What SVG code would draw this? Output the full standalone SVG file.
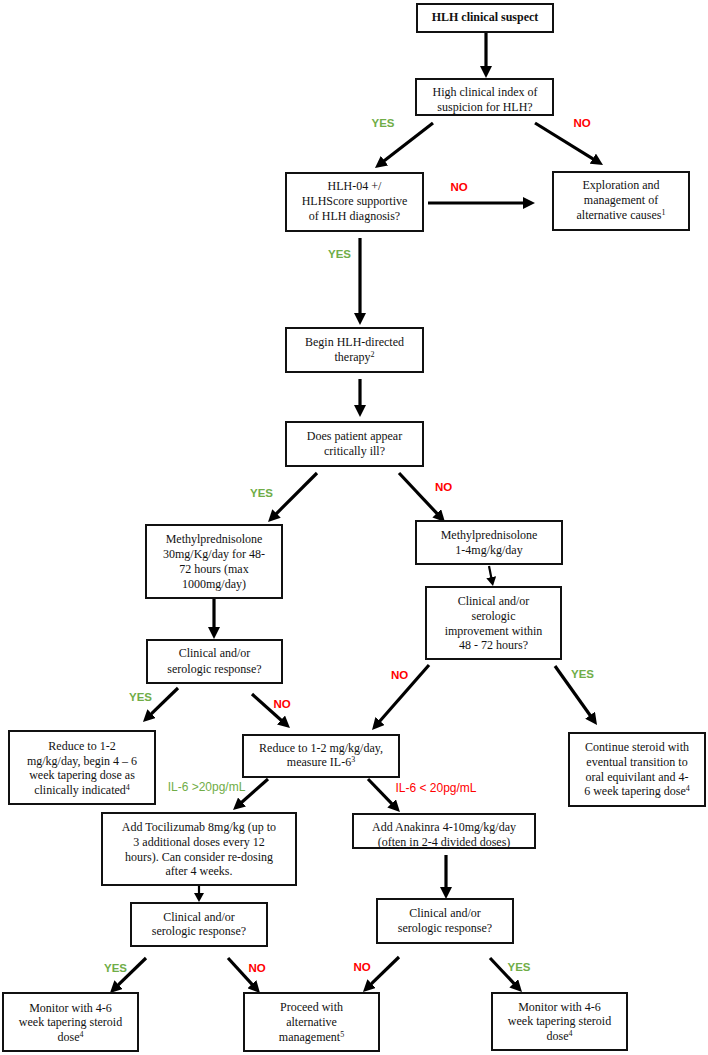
<svg xmlns="http://www.w3.org/2000/svg" width="708" height="1055" viewBox="0 0 708 1055">
<style>
.box{fill:#fff;stroke:#111;stroke-width:2}
.t{font-family:"Liberation Serif","Times New Roman",serif;font-size:12px;text-anchor:middle;fill:#111}
.b{font-weight:bold}
.c{stroke:#000;stroke-width:3.2;fill:none}
.cs{stroke:#000;stroke-width:2.2;fill:none}
.yes{font-family:"Liberation Sans",Arial,sans-serif;font-weight:bold;font-size:11.5px;fill:#70AD47;text-anchor:middle}
.no{font-family:"Liberation Sans",Arial,sans-serif;font-weight:bold;font-size:11.5px;fill:#FF0000;text-anchor:middle}
.ilg{font-family:"Liberation Sans",Arial,sans-serif;font-size:12px;fill:#70AD47;text-anchor:middle}
.ilr{font-family:"Liberation Sans",Arial,sans-serif;font-size:12px;fill:#FF0000;text-anchor:middle}
.sup{font-size:8px}
</style>
<defs>
<marker id="ah" markerUnits="userSpaceOnUse" markerWidth="12" markerHeight="12" refX="4" refY="6" orient="auto">
<path d="M0,0 L12,6 L0,12 Z" fill="#000"/>
</marker>
<marker id="ahs" markerUnits="userSpaceOnUse" markerWidth="9" markerHeight="10" refX="3" refY="5" orient="auto">
<path d="M0,0 L9,5 L0,10 Z" fill="#000"/>
</marker>
</defs>
<rect width="708" height="1055" fill="#fff"/>

<g id="connectors">
<line class="c" x1="486" y1="32" x2="486" y2="70" marker-end="url(#ah)"/>
<line class="c" x1="433" y1="123" x2="381.3" y2="163.1" marker-end="url(#ah)"/>
<line class="c" x1="535" y1="123" x2="596.2" y2="160.8" marker-end="url(#ah)"/>
<line class="c" x1="428" y1="203" x2="527" y2="203" marker-end="url(#ah)"/>
<line class="c" x1="360" y1="238" x2="360" y2="317" marker-end="url(#ah)"/>
<line class="c" x1="360" y1="379" x2="360" y2="409" marker-end="url(#ah)"/>
<line class="c" x1="317" y1="473" x2="273.7" y2="516.3" marker-end="url(#ah)"/>
<line class="c" x1="399" y1="473" x2="439.5" y2="516.2" marker-end="url(#ah)"/>
<line class="c" x1="214" y1="598" x2="214" y2="631" marker-end="url(#ah)"/>
<line class="cs" x1="489" y1="566" x2="491.8" y2="580.1" marker-end="url(#ahs)"/>
<line class="c" x1="178" y1="688" x2="148.7" y2="716.4" marker-end="url(#ah)"/>
<line class="c" x1="252" y1="694" x2="284" y2="722.7" marker-end="url(#ah)"/>
<line class="c" x1="429" y1="665" x2="377.3" y2="724" marker-end="url(#ah)"/>
<line class="c" x1="555" y1="666" x2="592.4" y2="718.5" marker-end="url(#ah)"/>
<line class="c" x1="268" y1="779" x2="239" y2="804.7" marker-end="url(#ah)"/>
<line class="c" x1="368" y1="779" x2="394.4" y2="806.3" marker-end="url(#ah)"/>
<line class="cs" x1="199" y1="885" x2="199" y2="896" marker-end="url(#ahs)"/>
<line class="c" x1="146" y1="958" x2="115.7" y2="987.4" marker-end="url(#ah)"/>
<line class="c" x1="228" y1="958" x2="254.6" y2="987.1" marker-end="url(#ah)"/>
<line class="c" x1="446" y1="855" x2="446" y2="891" marker-end="url(#ah)"/>
<line class="c" x1="399" y1="957" x2="368.7" y2="986.4" marker-end="url(#ah)"/>
<line class="c" x1="490" y1="958" x2="516.5" y2="986.2" marker-end="url(#ah)"/>

<text class="yes" x="383" y="127">YES</text>
<text class="no" x="582" y="127">NO</text>
<text class="no" x="459" y="191">NO</text>
<text class="yes" x="339.5" y="258">YES</text>
<text class="yes" x="261.5" y="497">YES</text>
<text class="no" x="443.5" y="491">NO</text>
<text class="yes" x="140.5" y="701">YES</text>
<text class="no" x="282" y="708">NO</text>
<text class="no" x="399.5" y="679">NO</text>
<text class="yes" x="582.5" y="678">YES</text>
<text class="ilg" x="206.5" y="791">IL-6 &gt;20pg/mL</text>
<text class="ilr" x="436" y="792">IL-6 &lt; 20pg/mL</text>
<text class="yes" x="115.5" y="972">YES</text>
<text class="no" x="257" y="972">NO</text>
<text class="no" x="362" y="971">NO</text>
<text class="yes" x="519" y="971">YES</text>
</g>

<g id="n-suspect">
<rect class="box" x="417" y="4" width="136" height="28"/>
<text class="t b" x="485" y="21">HLH clinical suspect</text>
</g>

<g id="n-index">
<rect class="box" x="416" y="79" width="137" height="36"/>
<text class="t" x="485" y="96">High clinical index of</text>
<text class="t" x="485" y="111">suspicion for HLH?</text>
</g>

<g id="n-hlh04">
<rect class="box" x="286" y="173" width="137" height="58"/>
<text class="t" x="354.5" y="190">HLH-04  +/</text>
<text class="t" x="354.5" y="205">HLHScore supportive</text>
<text class="t" x="354.5" y="220">of HLH diagnosis?</text>
</g>

<g id="n-explore">
<rect class="box" x="553" y="172" width="136" height="58"/>
<text class="t" x="621" y="189">Exploration and</text>
<text class="t" x="621" y="204">management of</text>
<text class="t" x="621" y="219">alternative causes<tspan class="sup" dy="-4">1</tspan></text>
</g>

<g id="n-begin">
<rect class="box" x="286" y="328" width="137" height="44"/>
<text class="t" x="354.5" y="346">Begin HLH-directed</text>
<text class="t" x="354.5" y="361">therapy<tspan class="sup" dy="-4">2</tspan></text>
</g>

<g id="n-critical">
<rect class="box" x="286" y="422" width="137" height="44"/>
<text class="t" x="354.5" y="440">Does patient appear</text>
<text class="t" x="354.5" y="455">critically ill?</text>
</g>

<g id="n-mp-high">
<rect class="box" x="146" y="525" width="136" height="73"/>
<text class="t" x="214" y="543">Methylprednisolone</text>
<text class="t" x="214" y="558">30mg/Kg/day for 48-</text>
<text class="t" x="214" y="573">72 hours (max</text>
<text class="t" x="214" y="588">1000mg/day)</text>
</g>

<g id="n-mp-low">
<rect class="box" x="416" y="521" width="146" height="43"/>
<text class="t" x="489" y="539">Methylprednisolone</text>
<text class="t" x="489" y="554">1-4mg/kg/day</text>
</g>

<g id="n-improve">
<rect class="box" x="426" y="587" width="135" height="72"/>
<text class="t" x="493.5" y="605">Clinical and/or</text>
<text class="t" x="493.5" y="620">serologic</text>
<text class="t" x="493.5" y="635">improvement within</text>
<text class="t" x="493.5" y="649">48 - 72 hours?</text>
</g>

<g id="n-response1">
<rect class="box" x="147" y="640" width="135" height="43"/>
<text class="t" x="214.5" y="657">Clinical and/or</text>
<text class="t" x="214.5" y="673">serologic response?</text>
</g>

<g id="n-reduce-taper">
<rect class="box" x="9" y="731" width="146" height="73"/>
<text class="t" x="82" y="750">Reduce to 1-2</text>
<text class="t" x="82" y="765">mg/kg/day, begin 4 – 6</text>
<text class="t" x="82" y="779">week tapering dose as</text>
<text class="t" x="82" y="794">clinically indicated<tspan class="sup" dy="-4">4</tspan></text>
</g>

<g id="n-reduce-il6">
<rect class="box" x="243" y="735" width="156" height="42"/>
<text class="t" x="321" y="752">Reduce to 1-2 mg/kg/day,</text>
<text class="t" x="321" y="766">measure IL-6<tspan class="sup" dy="-4">3</tspan></text>
</g>

<g id="n-continue">
<rect class="box" x="569" y="733" width="136" height="73"/>
<text class="t" x="637" y="751">Continue steroid with</text>
<text class="t" x="637" y="766">eventual transition to</text>
<text class="t" x="637" y="781">oral equivilant and 4-</text>
<text class="t" x="637" y="795">6 week tapering dose<tspan class="sup" dy="-4">4</tspan></text>
</g>

<g id="n-tocilizumab">
<rect class="box" x="102" y="813" width="194" height="72"/>
<text class="t" x="199" y="831">Add Tocilizumab  8mg/kg  (up to</text>
<text class="t" x="199" y="846">3 additional  doses every 12</text>
<text class="t" x="199" y="861">hours). Can consider re-dosing</text>
<text class="t" x="199" y="875">after 4 weeks.</text>
</g>

<g id="n-anakinra">
<rect class="box" x="353" y="814" width="182" height="34"/>
<text class="t" x="444" y="831">Add Anakinra 4-10mg/kg/day</text>
<text class="t" x="444" y="846">(often in 2-4 divided doses)</text>
</g>

<g id="n-response2">
<rect class="box" x="131" y="903" width="136" height="43"/>
<text class="t" x="199" y="921">Clinical  and/or</text>
<text class="t" x="199" y="935">serologic  response?</text>
</g>

<g id="n-response3">
<rect class="box" x="377" y="899" width="136" height="44"/>
<text class="t" x="445" y="917">Clinical  and/or</text>
<text class="t" x="445" y="932">serologic  response?</text>
</g>

<g id="n-monitor1">
<rect class="box" x="3" y="993" width="135" height="58"/>
<text class="t" x="70.5" y="1012">Monitor with 4-6</text>
<text class="t" x="70.5" y="1026">week tapering steroid</text>
<text class="t" x="70.5" y="1041">dose<tspan class="sup" dy="-4">4</tspan></text>
</g>

<g id="n-proceed">
<rect class="box" x="244" y="993" width="135" height="58"/>
<text class="t" x="311.5" y="1011">Proceed with</text>
<text class="t" x="311.5" y="1026">alternative</text>
<text class="t" x="311.5" y="1041">management<tspan class="sup" dy="-4">5</tspan></text>
</g>

<g id="n-monitor2">
<rect class="box" x="492" y="993" width="135" height="57"/>
<text class="t" x="559.5" y="1011">Monitor with 4-6</text>
<text class="t" x="559.5" y="1025">week tapering steroid</text>
<text class="t" x="559.5" y="1040">dose<tspan class="sup" dy="-4">4</tspan></text>
</g>
</svg>
